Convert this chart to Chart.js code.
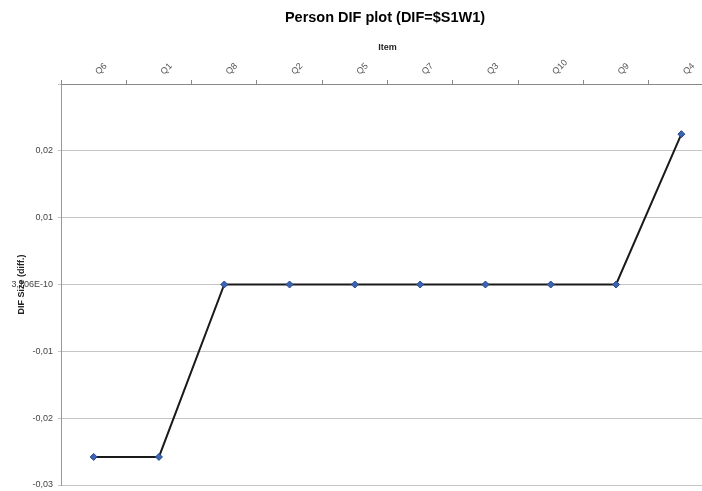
<!DOCTYPE html>
<html>
<head>
<meta charset="utf-8">
<script src="https://cdn.jsdelivr.net/npm/chart.js@4/dist/chart.umd.min.js"></script>
<style>
  html, body { margin: 0; padding: 0; background: #fff; overflow: hidden; }
  #wrap { width: 702px; height: 491px; overflow: hidden; }
</style>
</head>
<body>
<div id="wrap"><canvas id="difChart" width="770" height="491"></canvas></div>
<script>
const categories = ["Q6", "Q1", "Q8", "Q2", "Q5", "Q7", "Q3", "Q10", "Q9", "Q4"];
const difSize = [-0.0258, -0.0258, 0, 0, 0, 0, 0, 0, 0, 0.0225];
const yTickLabels = ["-0,03", "-0,02", "-0,01", "3,706E-10", "0,01", "0,02", ""];

const FONT = "'Liberation Sans', Arial, sans-serif";

// canvas is wider than the window so the title centres over the plot (right side is cropped as in the original)
const ctx = document.getElementById("difChart").getContext("2d");
const difChart = new Chart(ctx, {
  type: "line",
  data: {
    labels: categories,
    datasets: [
      {
        label: "DIF",
        data: difSize,
        borderColor: "#1a1a1a",
        borderWidth: 2,
        tension: 0,
        fill: false,
        pointStyle: "rectRot",
        pointRadius: 3.5,
        pointBackgroundColor: "#3c64b4",
        pointBorderColor: "#2a4a8a",
        pointBorderWidth: 1,
      },
    ],
  },
  options: {
    responsive: false,
    animation: false,
    devicePixelRatio: 1,
    layout: { padding: { left: 0, right: 0, top: 0, bottom: 6 } },
    plugins: {
      legend: { display: false },
      tooltip: { enabled: false },
      title: {
        display: true,
        text: "Person DIF plot (DIF=$S1W1)",
        color: "#000",
        font: { family: FONT, size: 14.5, weight: "bold" },
        padding: { top: 9, bottom: 3 },
      },
    },
    scales: {
      x: {
        type: "category",
        position: "top",
        offset: true,
        grid: {
          display: true,
          drawOnChartArea: false,
          offset: true,
          tickLength: 4,
          color: "#888",
        },
        border: { display: true, color: "#888" },
        ticks: {
          minRotation: 45,
          maxRotation: 45,
          padding: 3,
          labelOffset: 11,
          color: "#555",
          font: { family: FONT, size: 9 },
        },
        title: {
          display: true,
          text: "Item",
          color: "#222",
          font: { family: FONT, size: 9, weight: "bold" },
          padding: { top: 13, bottom: 0 },
        },
        afterFit: (s) => {
          s.height = 84 - 29.4;
          s.paddingLeft = 0;
          s.paddingRight = 56;
        },
      },
      y: {
        min: -0.03,
        max: 0.03,
        grid: {
          color: "#c4c4c4",
          tickLength: 3,
          lineWidth: 1,
        },
        border: { display: true, color: "#999" },
        ticks: {
          stepSize: 0.01,
          padding: 5,
          color: "#444",
          font: { family: FONT, size: 9 },
          callback: (value, index) => yTickLabels[index],
        },
        title: {
          display: true,
          text: "DIF Size (diff.)",
          color: "#222",
          font: { family: FONT, size: 9, weight: "bold" },
          padding: { top: 16, bottom: 0 },
        },
        afterFit: (s) => {
          s.width = 61;
          s.paddingTop = 0;
          s.paddingBottom = 0;
        },
      },
    },
  },
});
</script>
</body>
</html>
